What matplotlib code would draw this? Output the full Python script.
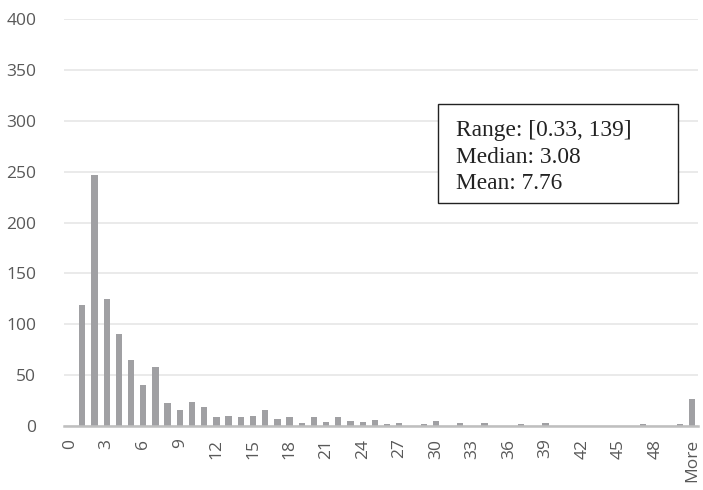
import matplotlib
matplotlib.use('Agg')
import matplotlib.pyplot as plt
from matplotlib.patches import Rectangle

# histogram bins 0..50 plus overflow bin
categories = [str(i) for i in range(51)] + ['More']
counts = [0, 119, 247, 125, 90, 65, 40, 58, 23, 16,
          24, 19, 9, 10, 9, 10, 16, 7, 9, 3,
          9, 4, 9, 5, 4, 6, 2, 3, 0, 2,
          5, 0, 3, 0, 3, 0, 0, 2, 0, 3,
          0, 0, 0, 0, 0, 0, 0, 2, 0, 0,
          2, 27]
stats_lines = ['Range: [0.33, 139]', 'Median: 3.08', 'Mean: 7.76']

W, H = 703, 490
fig = plt.figure(figsize=(W / 100, H / 100), dpi=100)
ax = fig.add_axes([64 / W, 1 - 426 / H, 634 / W, 407 / H])

x = list(range(len(categories)))
ax.bar(x, counts, width=0.52, color='#a0a0a3', zorder=3)

ax.set_xlim(-0.5, len(categories) - 0.5)
ax.set_ylim(0, 400)
ax.set_yticks(range(0, 401, 50))
ax.set_xticks(x[::3])
ax.set_xticklabels(categories[::3], rotation=90)

ax.grid(axis='y', color='#e6e6e6', linewidth=1.2, zorder=0)
ax.tick_params(axis='both', length=0, colors='#595959', labelsize=12.5)
ax.tick_params(axis='y', pad=20)
ax.tick_params(axis='x', pad=9)
for lab in ax.get_xticklabels() + ax.get_yticklabels():
    lab.set_fontfamily('Open Sans')

for s in ['top', 'right', 'left']:
    ax.spines[s].set_visible(False)
ax.spines['bottom'].set_color('#bfbfbf')
ax.spines['bottom'].set_linewidth(1.8)
ax.spines['bottom'].set_zorder(4)

# stats box
box = Rectangle((438 / W, 1 - 203 / H), 240 / W, 99 / H, transform=fig.transFigure,
                facecolor='white', edgecolor='#222222', linewidth=1.0, zorder=5)
fig.patches.append(box)
for i, line in enumerate(stats_lines):
    fig.text(456 / W, 1 - (136 + 26.7 * i) / H, line, fontsize=16.8,
             family='Liberation Serif', color='#222222', va='baseline', zorder=6)

fig.savefig('out.png', dpi=100)
